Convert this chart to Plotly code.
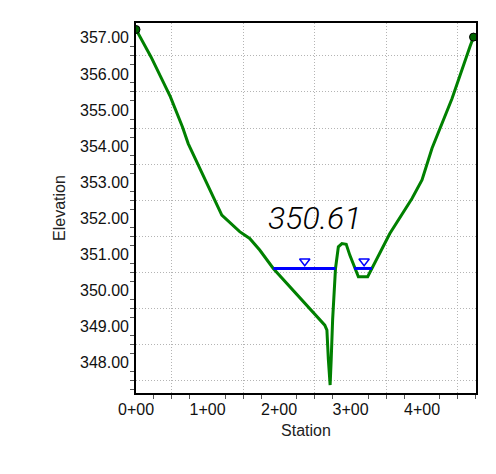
import plotly.graph_objects as go

# ---- data (station in ft, elevation) ----
station = [0, 21, 48, 65, 73, 103, 120, 145, 159, 173, 192, 264, 267, 269, 271.5,
           273, 275, 279, 283, 288, 294, 299, 306, 311, 324, 330, 346, 355, 386,
           400, 414, 428, 442, 467, 472]
elevation = [357.23, 356.47, 355.37, 354.53, 354.07, 352.78, 352.09, 351.63, 351.44,
             351.12, 350.61, 349.04, 348.90, 348.10, 347.38, 348.10, 349.20, 350.61,
             351.21, 351.30, 351.28, 350.98, 350.61, 350.38, 350.38, 350.61, 351.21,
             351.58, 352.55, 353.06, 353.94, 354.63, 355.32, 356.75, 357.02]

ws_elev = 350.61
ws_segments = [(192, 279), (305, 330)]
ws_marker_stations = [236, 319]

x_tick_vals = [0, 100, 200, 300, 400]
x_tick_text = ["0+00", "1+00", "2+00", "3+00", "4+00"]
y_tick_vals = [348, 349, 350, 351, 352, 353, 354, 355, 356, 357]
y_tick_text = [f"{v:.2f}" for v in y_tick_vals]

x_grid_vals = [50, 150, 250, 350, 450]
x_minor_vals = [25, 75, 125, 175, 225, 275, 325, 375, 425, 475]
y_grid_vals = [347.5 + i for i in range(10)]
y_minor_vals = [347.25 + 0.5 * i for i in range(20)]

x_range = [0, 475.5]
y_range = [347.16, 357.41]

FONT = "Liberation Sans, Arial, sans-serif"

fig = go.Figure()

# ground profile
fig.add_trace(go.Scatter(x=station, y=elevation, mode="lines",
                         line=dict(color="#008000", width=3),
                         showlegend=False, hoverinfo="skip"))
# end points
fig.add_trace(go.Scatter(x=[station[0], station[-1]], y=[elevation[0], elevation[-1]],
                         mode="markers",
                         marker=dict(color="#006400", size=8,
                                     line=dict(color="#000000", width=1)),
                         showlegend=False, hoverinfo="skip"))
# water surface
ws_x, ws_y = [], []
for a, b in ws_segments:
    ws_x += [a, b, None]
    ws_y += [ws_elev, ws_elev, None]
fig.add_trace(go.Scatter(x=ws_x, y=ws_y, mode="lines",
                         line=dict(color="#0000FF", width=3),
                         showlegend=False, hoverinfo="skip"))
fig.add_trace(go.Scatter(x=ws_marker_stations, y=[ws_elev + 0.2] * len(ws_marker_stations),
                         mode="markers",
                         marker=dict(symbol="triangle-down-open", color="#0000FF", size=9,
                                     line=dict(color="#0000FF", width=1.5)),
                         showlegend=False, hoverinfo="skip"))
# dummy trace for label axes
fig.add_trace(go.Scatter(x=[None], y=[None], xaxis="x2", yaxis="y2",
                         showlegend=False, hoverinfo="skip"))

fig.add_annotation(x=251, y=352.0, text=f"{ws_elev:.2f}", showarrow=False,
                   font=dict(family="Roboto", size=32, color="#000000",
                             style="italic", weight=300))

common_main = dict(showticklabels=False, ticks="outside", ticklen=4, tickwidth=1,
                   tickcolor="#555555", showgrid=True, gridcolor="#b4b4b4",
                   griddash="1px,2px", gridwidth=1, zeroline=False, showline=True,
                   linecolor="#000000", linewidth=2, mirror=True)

fig.update_layout(
    width=488, height=466,
    margin=dict(l=128, r=20, t=15, b=81),
    paper_bgcolor="white", plot_bgcolor="white",
    showlegend=False,
    xaxis=dict(range=x_range, tickmode="array", tickvals=x_grid_vals,
               minor=dict(tickmode="array", tickvals=x_minor_vals, ticks="outside",
                          ticklen=4, tickcolor="#555555", showgrid=False),
               **common_main),
    yaxis=dict(range=y_range, tickmode="array", tickvals=y_grid_vals,
               minor=dict(tickmode="array", tickvals=y_minor_vals, ticks="outside",
                          ticklen=4, tickcolor="#555555", showgrid=False),
               **common_main),
    xaxis2=dict(overlaying="x", anchor="y2", range=x_range, tickmode="array",
                tickvals=x_tick_vals, ticktext=x_tick_text, ticks="", showgrid=False,
                zeroline=False, showline=False, ticklabelstandoff=5,
                tickfont=dict(family=FONT, size=16, color="#111111"),
                title=dict(text="Station", standoff=7,
                           font=dict(family=FONT, size=16, color="#222222"))),
    yaxis2=dict(overlaying="y", anchor="x2", range=y_range, tickmode="array",
                tickvals=y_tick_vals, ticktext=y_tick_text, ticks="", showgrid=False,
                zeroline=False, showline=False, ticklabelstandoff=6,
                tickfont=dict(family=FONT, size=16, color="#111111"),
                title=dict(text="Elevation", standoff=10,
                           font=dict(family=FONT, size=16, color="#222222"))),
)

fig.write_html("out.html")
